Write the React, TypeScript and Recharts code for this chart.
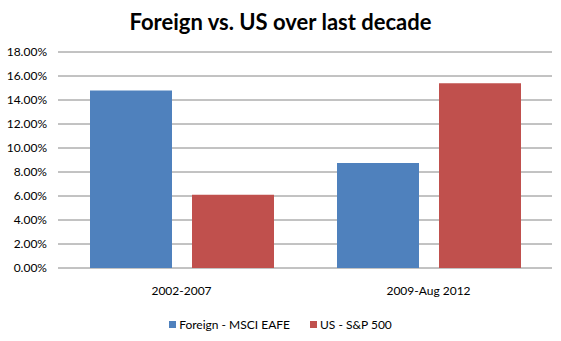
import { BarChart, Bar, XAxis, YAxis, CartesianGrid, Legend } from "recharts";

const periods = ["2002-2007", "2009-Aug 2012"];
const foreignReturns = [0.148, 0.0875];
const usReturns = [0.061, 0.154];
const yTicks = [0, 0.02, 0.04, 0.06, 0.08, 0.1, 0.12, 0.14, 0.16, 0.18];

const FOREIGN = "Foreign - MSCI EAFE";
const US = "US - S&P 500";

const data = periods.map((p, i) => ({
  period: p,
  [FOREIGN]: foreignReturns[i],
  [US]: usReturns[i],
}));

const FONT = "Lato, 'Open Sans', sans-serif";

function LegendBox() {
  const items = [
    { name: FOREIGN, color: "#4F81BD" },
    { name: US, color: "#C0504D" },
  ];
  return (
    <div
      style={{
        display: "flex",
        justifyContent: "center",
        alignItems: "center",
        height: 20,
        fontFamily: FONT,
        fontSize: 12,
        color: "#000",
      }}
    >
      {items.map((it, i) => (
        <div
          key={it.name}
          style={{ display: "flex", alignItems: "center", marginLeft: i ? 20 : 0 }}
        >
          <span
            style={{ width: 7, height: 7, background: it.color, marginRight: 3, display: "inline-block" }}
          />
          <span>{it.name}</span>
        </div>
      ))}
    </div>
  );
}

export default function App() {
  return (
    <div style={{ position: "absolute", left: 0, top: 0, width: 561, height: 341, background: "#fff" }}>
      <div
        style={{
          position: "absolute",
          top: 8,
          left: 0,
          width: 561,
          textAlign: "center",
          fontFamily: FONT,
          fontWeight: 700,
          fontSize: 22,
          lineHeight: "28px",
          color: "#000",
        }}
      >
        Foreign vs. US over last decade
      </div>
      <BarChart
        width={561}
        height={341}
        data={data}
        margin={{ top: 52, right: 9, left: 0, bottom: 7 }}
        barGap={20}
        barSize={82}
      >
        <CartesianGrid vertical={false} stroke="#868686" />
        <XAxis
          dataKey="period"
          axisLine={false}
          tickLine={false}
          height={46}
          tickMargin={12}
          tick={{ fill: "#000", fontSize: 12, fontFamily: FONT }}
        />
        <YAxis
          domain={[0, 0.18]}
          ticks={yTicks}
          width={58}
          axisLine={false}
          tickLine={false}
          tickMargin={5}
          tickFormatter={(v: number) => (v * 100).toFixed(2) + "%"}
          tick={{ fill: "#000", fontSize: 12, fontFamily: FONT }}
        />
        <Legend
          verticalAlign="bottom"
          content={<LegendBox />}
          wrapperStyle={{ left: 0, width: 561 }}
        />
        <Bar dataKey={FOREIGN} fill="#4F81BD" isAnimationActive={false} />
        <Bar dataKey={US} fill="#C0504D" isAnimationActive={false} />
      </BarChart>
    </div>
  );
}
